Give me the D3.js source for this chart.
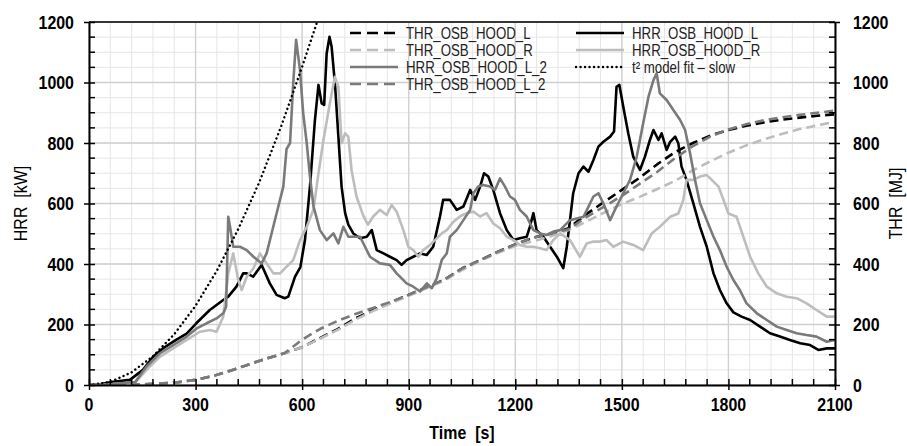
<!DOCTYPE html>
<html>
<head>
<meta charset="utf-8">
<script src="https://cdn.jsdelivr.net/npm/d3@7.9.0/dist/d3.min.js"></script>
<style>
  body { margin: 0; background: #fff; }
  svg text { font-family: "Liberation Sans", Arial, sans-serif; }
</style>
</head>
<body>
<svg id="chart" width="907" height="446"></svg>
<script>
// Time [s] / value pairs
const hrrL = [[0,0],[30,2],[68,11],[115,17],[152,50],[181,94],[208,121],[245,149],[275,170],[302,204],[340,248],[378,281],[392,292],[415,325],[434,369],[444,369],[462,358],[486,397],[509,336],[528,298],[551,287],[561,292],[580,358],[595,390],[608,480],[622,656],[636,876],[646,992],[655,931],[662,926],[669,1096],[677,1151],[683,1118],[693,986],[702,821],[711,656],[721,568],[730,530],[744,501],[763,485],[782,490],[796,512],[810,446],[829,435],[847,424],[866,413],[880,397],[894,413],[913,424],[932,435],[951,430],[969,457],[988,557],[997,612],[1016,612],[1035,579],[1054,590],[1073,645],[1087,612],[1101,656],[1112,700],[1124,689],[1138,645],[1157,568],[1176,512],[1195,479],[1213,485],[1232,490],[1241,523],[1251,568],[1260,512],[1279,490],[1298,457],[1317,424],[1335,386],[1345,457],[1363,634],[1378,700],[1392,722],[1406,705],[1420,744],[1434,788],[1448,804],[1467,821],[1478,838],[1485,986],[1493,992],[1504,920],[1518,832],[1532,755],[1551,711],[1565,755],[1579,810],[1589,843],[1603,810],[1612,832],[1626,777],[1636,804],[1650,821],[1659,799],[1668,722],[1682,678],[1701,601],[1720,523],[1739,457],[1758,369],[1776,314],[1795,270],[1814,240],[1837,226],[1861,215],[1889,193],[1917,171],[1945,160],[1973,149],[2002,138],[2030,132],[2053,116],[2077,121],[2100,121]];

const hrrR = [[0,0],[60,2],[130,8],[162,50],[200,94],[237,121],[275,149],[312,176],[341,182],[359,176],[378,226],[392,369],[406,435],[420,347],[430,314],[444,358],[463,386],[481,435],[500,402],[519,369],[538,369],[556,391],[575,413],[594,479],[613,523],[632,580],[646,700],[660,810],[678,931],[692,1019],[702,986],[711,799],[721,832],[730,821],[739,711],[753,623],[772,560],[785,530],[800,557],[819,579],[838,562],[852,595],[866,573],[885,512],[899,457],[913,446],[927,424],[941,446],[960,463],[974,479],[993,501],[1007,512],[1026,540],[1044,557],[1063,568],[1082,573],[1101,557],[1119,568],[1138,534],[1157,518],[1176,490],[1195,479],[1213,463],[1232,457],[1251,457],[1270,452],[1288,446],[1307,479],[1326,501],[1354,479],[1382,424],[1401,468],[1420,474],[1438,474],[1457,479],[1476,457],[1504,474],[1532,463],[1560,446],[1584,501],[1607,523],[1636,556],[1659,567],[1673,612],[1682,678],[1701,678],[1720,689],[1739,694],[1753,678],[1772,656],[1786,612],[1800,567],[1823,556],[1842,490],[1861,424],[1884,369],[1908,325],[1936,303],[1964,292],[1992,287],[2020,270],[2048,248],[2077,226],[2100,226]];

const hrrL2 = [[0,0],[60,3],[130,10],[162,61],[200,105],[237,132],[275,160],[303,187],[331,204],[359,220],[378,237],[386,259],[392,556],[397,523],[406,457],[425,457],[444,446],[463,424],[486,402],[500,435],[514,501],[528,567],[547,656],[556,780],[566,800],[575,1000],[583,1141],[594,1041],[603,898],[613,799],[622,689],[632,590],[650,512],[669,479],[688,501],[702,468],[716,523],[730,490],[744,490],[763,490],[791,424],[819,402],[847,397],[866,369],[894,336],[913,325],[932,309],[951,336],[965,320],[979,353],[993,413],[1007,435],[1016,490],[1035,512],[1054,545],[1073,579],[1082,634],[1096,656],[1110,661],[1129,656],[1143,645],[1157,683],[1171,656],[1185,623],[1199,612],[1213,579],[1232,557],[1251,512],[1270,501],[1288,496],[1307,507],[1326,512],[1354,545],[1392,556],[1420,623],[1434,634],[1448,600],[1467,545],[1485,590],[1504,634],[1523,678],[1542,755],[1560,865],[1575,953],[1589,1008],[1598,1030],[1607,964],[1626,942],[1645,909],[1664,876],[1678,843],[1692,766],[1706,678],[1720,601],[1739,545],[1758,490],[1776,446],[1795,391],[1814,347],[1832,314],[1851,270],[1880,237],[1908,215],[1936,193],[1964,182],[1992,171],[2020,165],[2048,160],[2077,143],[2100,149]];

const thrL = [[0,0],[150,2],[200,5],[250,9],[300,17],[350,30],[400,48],[450,68],[500,88],[550,105],[600,125],[650,155],[700,185],[750,220],[800,248],[850,273],[900,298],[950,323],[1000,348],[1050,385],[1100,412],[1150,440],[1200,465],[1250,487],[1300,500],[1350,518],[1400,565],[1450,605],[1500,645],[1550,685],[1600,730],[1650,770],[1700,800],[1750,825],[1800,843],[1850,857],[1900,868],[1950,877],[2000,884],[2050,890],[2100,895]];

const thrR = [[0,0],[150,2],[200,5],[250,9],[300,17],[350,30],[400,48],[450,68],[500,88],[550,105],[600,125],[650,153],[700,182],[750,216],[800,245],[850,270],[900,295],[950,320],[1000,345],[1050,380],[1100,410],[1150,436],[1200,460],[1250,475],[1300,492],[1350,512],[1400,540],[1450,570],[1500,598],[1550,622],[1600,648],[1650,675],[1700,710],[1750,740],[1800,768],[1850,792],[1900,812],[1950,830],[2000,846],[2050,858],[2100,870]];

const thrL2 = [[0,0],[150,2],[200,5],[250,9],[300,17],[350,30],[400,48],[450,68],[500,88],[550,105],[600,150],[650,185],[700,212],[750,235],[800,255],[850,275],[900,298],[950,323],[1000,348],[1050,385],[1100,412],[1150,440],[1200,465],[1250,487],[1300,500],[1350,515],[1400,555],[1450,590],[1500,625],[1550,665],[1600,705],[1650,750],[1700,790],[1750,822],[1800,845],[1850,862],[1900,875],[1950,885],[2000,893],[2050,900],[2100,907]];

const t2Fit = [[0,0],[60,10],[120,42],[180,95],[240,168],[300,262],[360,378],[420,515],[480,672],[540,852],[600,1052],[642,1200]];

const xTicks = [0, 300, 600, 900, 1200, 1500, 1800, 2100];
const yTicks = [0, 200, 400, 600, 800, 1000, 1200];

const series = [
  { name: "THR_OSB_HOOD_L",   data: thrL,  color: "#000000", dash: "9,5", w: 2.6 },
  { name: "HRR_OSB_HOOD_L",   data: hrrL,  color: "#000000", dash: null,  w: 2.6 },
  { name: "THR_OSB_HOOD_R",   data: thrR,  color: "#bdbdbd", dash: "9,5", w: 2.6 },
  { name: "HRR_OSB_HOOD_R",   data: hrrR,  color: "#bdbdbd", dash: null,  w: 2.6 },
  { name: "HRR_OSB_HOOD_L_2", data: hrrL2, color: "#7a7a7a", dash: null,  w: 2.6 },
  { name: "t\u00b2 model fit \u2013 slow", data: t2Fit, color: "#000000", dash: "0.1,4.4", w: 2.4, dotted: true },
  { name: "THR_OSB_HOOD_L_2", data: thrL2, color: "#7a7a7a", dash: "9,5", w: 2.6 }
];

const W = 907, H = 446;
const margin = { top: 22, right: 72, bottom: 61, left: 89 };
const iw = W - margin.left - margin.right;
const ih = H - margin.top - margin.bottom;
const NARROW = 0.84; // squeeze Liberation Sans to look like Arial Narrow

const svg = d3.select("#chart");
const g = svg.append("g").attr("transform", `translate(${margin.left},${margin.top})`);

const x = d3.scaleLinear().domain([0, 2100]).range([0, iw]);
const y = d3.scaleLinear().domain([0, 1200]).range([ih, 0]);
const y2 = d3.scaleLinear().domain([0, 1200]).range([ih, 0]);

// narrow text helper: position group, squeeze text horizontally
function narrowText(parent, px, py, str, opts) {
  const grp = parent.append("g").attr("transform", `translate(${px},${py})${opts.rotate ? " rotate(" + opts.rotate + ")" : ""}`);
  return grp.append("text")
    .attr("transform", `scale(${NARROW},1)`)
    .attr("text-anchor", opts.anchor || "start")
    .attr("font-size", opts.size)
    .attr("font-weight", opts.bold ? "bold" : "normal")
    .attr("fill", opts.fill || "#000")
    .style("white-space", "pre")
    .text(str);
}

// grid: minor every 60 s / 50 units, major every 300 s / 200 units
const gridG = g.append("g");
gridG.selectAll(".vmin").data(d3.range(0, 2101, 60)).enter().append("line")
  .attr("x1", d => x(d)).attr("x2", d => x(d)).attr("y1", 0).attr("y2", ih)
  .attr("stroke", "#e6e6e6").attr("stroke-width", 1);
gridG.selectAll(".hmin").data(d3.range(0, 1201, 50)).enter().append("line")
  .attr("y1", d => y(d)).attr("y2", d => y(d)).attr("x1", 0).attr("x2", iw)
  .attr("stroke", "#e6e6e6").attr("stroke-width", 1);
gridG.selectAll(".vmaj").data(xTicks).enter().append("line")
  .attr("x1", d => x(d)).attr("x2", d => x(d)).attr("y1", 0).attr("y2", ih)
  .attr("stroke", "#cfcfcf").attr("stroke-width", 1.3);
gridG.selectAll(".hmaj").data(yTicks).enter().append("line")
  .attr("y1", d => y(d)).attr("y2", d => y(d)).attr("x1", 0).attr("x2", iw)
  .attr("stroke", "#cfcfcf").attr("stroke-width", 1.3);

// lines
const line = d3.line().x(d => x(d[0])).y(d => y(d[1]));
g.append("defs").append("clipPath").attr("id", "clip")
  .append("rect").attr("width", iw).attr("height", ih);

const linesG = g.append("g").attr("clip-path", "url(#clip)");
series.forEach(s => {
  linesG.append("path")
    .datum(s.data)
    .attr("d", line)
    .attr("fill", "none")
    .attr("stroke", s.color)
    .attr("stroke-width", s.w)
    .attr("stroke-linejoin", "round")
    .attr("stroke-linecap", s.dotted ? "round" : "butt")
    .attr("stroke-dasharray", s.dash);
});

// top frame
g.append("line").attr("x1", 0).attr("x2", iw).attr("y1", 0).attr("y2", 0)
  .attr("stroke", "#000").attr("stroke-width", 1.5);

// minor ticks (inside)
const minorX = d3.range(0, 2101, 60).filter(d => d % 300 !== 0);
const minorY = d3.range(0, 1201, 50).filter(d => d % 200 !== 0);

g.append("g").selectAll("line").data(minorX).enter().append("line")
  .attr("x1", d => x(d)).attr("x2", d => x(d)).attr("y1", ih).attr("y2", ih - 6)
  .attr("stroke", "#000").attr("stroke-width", 1.5);
g.append("g").selectAll("line").data(minorY).enter().append("line")
  .attr("y1", d => y(d)).attr("y2", d => y(d)).attr("x1", 0).attr("x2", 6)
  .attr("stroke", "#000").attr("stroke-width", 1.5);
g.append("g").selectAll("line").data(minorY).enter().append("line")
  .attr("y1", d => y(d)).attr("y2", d => y(d)).attr("x1", iw).attr("x2", iw - 6)
  .attr("stroke", "#000").attr("stroke-width", 1.5);

// axes (labels drawn separately so they can be squeezed)
function styleAxis(sel) {
  sel.select(".domain").attr("stroke", "#000").attr("stroke-width", 2);
  sel.selectAll("text").remove();
}

const xAxis = g.append("g").attr("transform", `translate(0,${ih})`)
  .call(d3.axisBottom(x).tickValues(xTicks).tickSizeInner(5).tickSizeOuter(0));
xAxis.selectAll(".tick line").attr("y1", -6).attr("stroke", "#000").attr("stroke-width", 1.5);
styleAxis(xAxis);

const yAxis = g.append("g")
  .call(d3.axisLeft(y).tickValues(yTicks).tickSizeInner(5).tickSizeOuter(0));
yAxis.selectAll(".tick line").attr("x1", 6).attr("stroke", "#000").attr("stroke-width", 1.5);
styleAxis(yAxis);

const yAxis2 = g.append("g").attr("transform", `translate(${iw},0)`)
  .call(d3.axisRight(y2).tickValues(yTicks).tickSizeInner(5).tickSizeOuter(0));
yAxis2.selectAll(".tick line").attr("x1", -6).attr("stroke", "#000").attr("stroke-width", 1.5);
styleAxis(yAxis2);

const fmt = d3.format("d");
xTicks.forEach(v => narrowText(g, x(v), ih + 26, fmt(v), { anchor: "middle", size: 19, bold: true }));
yTicks.forEach(v => narrowText(g, -15, y(v) + 6.5, fmt(v), { anchor: "end", size: 19, bold: true }));
yTicks.forEach(v => narrowText(g, iw + 18, y2(v) + 6.5, fmt(v), { anchor: "start", size: 19, bold: true }));

// axis titles
narrowText(svg, 27, margin.top + ih / 2, "HRR  [kW]", { anchor: "middle", size: 19, rotate: -90 });
narrowText(svg, 902, margin.top + ih / 2, "THR  [MJ]", { anchor: "middle", size: 19, rotate: -90 });
narrowText(svg, margin.left + iw / 2, 439, "Time  [s]", { anchor: "middle", size: 19, bold: true });

// legend
const legendCols = [
  { x: 350, items: [series[0], series[2], series[4], series[6]] },
  { x: 576, items: [series[1], series[3], series[5]] }
];
const legend = svg.append("g");
legendCols.forEach(col => {
  col.items.forEach((s, i) => {
    const ly = 33 + i * 17;
    legend.append("line")
      .attr("x1", col.x).attr("x2", col.x + 48).attr("y1", ly).attr("y2", ly)
      .attr("stroke", s.color).attr("stroke-width", s.w)
      .attr("stroke-linecap", s.dotted ? "round" : "butt")
      .attr("stroke-dasharray", s.dotted ? "0.1,4.4" : (s.dash ? "11,6" : null));
    narrowText(legend, col.x + 56, ly + 5.5, s.name, { size: 15.8, fill: "#222" });
  });
});
</script>
</body>
</html>
